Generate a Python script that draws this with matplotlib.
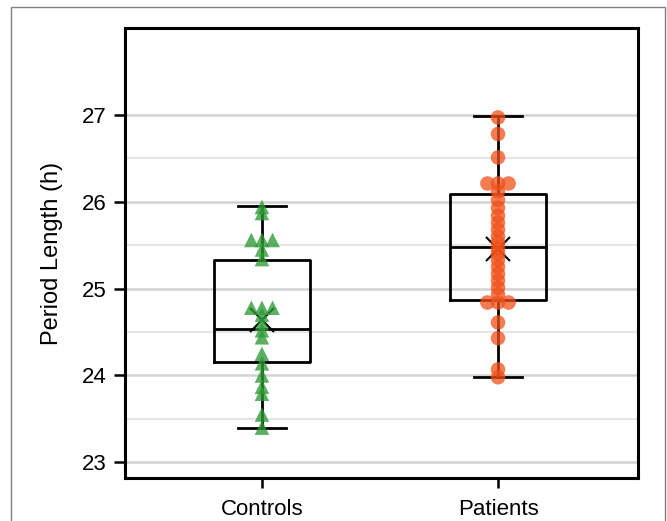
import numpy as np
import matplotlib
matplotlib.use("Agg")
from matplotlib import pyplot as plt
from matplotlib.patches import Rectangle
from matplotlib.ticker import FixedLocator

plt.rcParams["font.family"] = ["Liberation Sans", "DejaVu Sans"]

groups = ["Controls", "Patients"]

controls = [25.94, 25.87, 25.56, 25.56, 25.56, 25.45, 25.34,
            24.78, 24.78, 24.78, 24.70, 24.60, 24.52, 24.44,
            24.25, 24.14, 24.00, 23.87, 23.79, 23.55, 23.40]
patients = [26.97, 26.78, 26.51, 26.21, 26.21, 26.21, 26.12, 26.02,
            25.93, 25.84, 25.76, 25.68, 25.60, 25.53, 25.46, 25.40,
            25.33, 25.25, 25.17, 25.09, 25.01, 24.93, 24.84, 24.84,
            24.84, 24.61, 24.43, 24.07, 23.98]

# box statistics as drawn in the original
q1 = [24.15, 24.87]
med = [24.54, 25.48]
q3 = [25.33, 26.09]
whislo = [23.39, 23.98]
whishi = [25.95, 26.99]
means = [24.64, 25.46]

yticks = [23, 24, 25, 26, 27]
yminor = [23.5, 24.5, 25.5, 26.5]

fig = plt.figure(figsize=(6.67, 5.21), dpi=100)
ax = fig.add_axes([125 / 667, 43 / 521, 513 / 667, 450 / 521])

ax.set_ylim(22.82, 28.0)
ax.set_xlim(0.42, 2.593)
ax.yaxis.set_major_locator(FixedLocator(yticks))
ax.yaxis.set_minor_locator(FixedLocator(yminor))
ax.grid(True, which="major", axis="y", color="#d2d2d2", lw=1.8, zorder=0)
ax.grid(True, which="minor", axis="y", color="#e6e6e6", lw=1.5, zorder=0)
ax.set_axisbelow(True)

stats = []
for i, g in enumerate(groups):
    stats.append(dict(label=g, q1=q1[i], med=med[i], q3=q3[i],
                      whislo=whislo[i], whishi=whishi[i], mean=means[i],
                      fliers=[]))

ax.bxp(stats, positions=[1, 2], widths=0.407, showmeans=True,
       showfliers=False,
       boxprops=dict(color="black", lw=2.0),
       medianprops=dict(color="black", lw=2.0),
       whiskerprops=dict(color="black", lw=2.0),
       capprops=dict(color="black", lw=2.0),
       capwidths=0.205,
       meanprops=dict(marker="x", markeredgecolor="black", markersize=17,
                      markeredgewidth=1.5),
       zorder=2)


def swarm_x(pos, values, step=0.045):
    vals = np.asarray(values)
    xs = np.full(len(vals), float(pos))
    for v in np.unique(vals):
        idx = np.where(vals == v)[0]
        n = len(idx)
        if n > 1:
            xs[idx] = pos + (np.arange(n) - (n - 1) / 2) * step
    return xs


ax.scatter(swarm_x(1, controls), controls, marker="^", s=110,
           color="#2E9A35", alpha=0.78, edgecolors="none", zorder=3)
ax.scatter(swarm_x(2, patients), patients, marker="o", s=110,
           color="#F0501A", alpha=0.75, edgecolors="none", zorder=3)

ax.set_xticks([1, 2])
ax.set_xticklabels(groups)
ax.tick_params(axis="y", which="major", length=8, width=1.8, pad=5,
               labelsize=16, colors="black")
ax.tick_params(axis="y", which="minor", length=0)
ax.tick_params(axis="x", length=7, width=1.8, pad=8, labelsize=16)
for s in ax.spines.values():
    s.set_linewidth(2.2)
    s.set_color("black")

ax.set_ylabel("Period Length (h)", fontsize=17, labelpad=14)

fig.add_artist(Rectangle((11 / 667, -0.02), 654 / 667, 1.02 - 7 / 521,
                         transform=fig.transFigure, fill=False,
                         edgecolor="#808080", lw=1.0))

fig.savefig("out.png", dpi=100)
